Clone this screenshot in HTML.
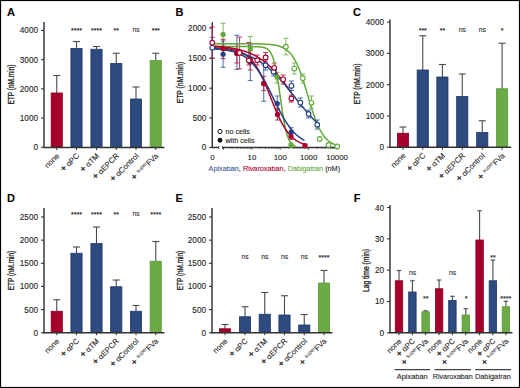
<!DOCTYPE html>
<html><head><meta charset="utf-8"><style>
html,body{margin:0;padding:0;background:#fff;}
svg{display:block;}
text{font-family:"Liberation Sans",sans-serif;stroke:#222;stroke-width:0.1px;}
</style></head><body>
<svg width="520" height="388" viewBox="0 0 520 388" font-family="Liberation Sans, sans-serif">
<rect x="0" y="0" width="520" height="388" fill="#fff"/>
<text x="7" y="16.15" font-size="11" text-anchor="start" fill="#000" font-weight="bold" >A</text>
<line x1="56.75" y1="75.5" x2="56.75" y2="93" stroke="#4a4a4a" stroke-width="1.1" />
<line x1="53.25" y1="75.5" x2="60.25" y2="75.5" stroke="#4a4a4a" stroke-width="1.1" />
<rect x="51.15" y="93" width="11.2" height="54.5" fill="#a5002b" stroke="#8c0024" stroke-width="0.8"/>
<line x1="76.5" y1="41.5" x2="76.5" y2="48.5" stroke="#4a4a4a" stroke-width="1.1" />
<line x1="73" y1="41.5" x2="80" y2="41.5" stroke="#4a4a4a" stroke-width="1.1" />
<rect x="70.9" y="48.5" width="11.2" height="99" fill="#2d4b7e" stroke="#1f3868" stroke-width="0.8"/>
<line x1="96.5" y1="46.5" x2="96.5" y2="49.25" stroke="#4a4a4a" stroke-width="1.1" />
<line x1="93" y1="46.5" x2="100" y2="46.5" stroke="#4a4a4a" stroke-width="1.1" />
<rect x="90.9" y="49.25" width="11.2" height="98.25" fill="#2d4b7e" stroke="#1f3868" stroke-width="0.8"/>
<line x1="116.25" y1="53.25" x2="116.25" y2="63.5" stroke="#4a4a4a" stroke-width="1.1" />
<line x1="112.75" y1="53.25" x2="119.75" y2="53.25" stroke="#4a4a4a" stroke-width="1.1" />
<rect x="110.65" y="63.5" width="11.2" height="84" fill="#2d4b7e" stroke="#1f3868" stroke-width="0.8"/>
<line x1="136" y1="87" x2="136" y2="99" stroke="#4a4a4a" stroke-width="1.1" />
<line x1="132.5" y1="87" x2="139.5" y2="87" stroke="#4a4a4a" stroke-width="1.1" />
<rect x="130.4" y="99" width="11.2" height="48.5" fill="#2d4b7e" stroke="#1f3868" stroke-width="0.8"/>
<line x1="155.75" y1="53.25" x2="155.75" y2="60.5" stroke="#4a4a4a" stroke-width="1.1" />
<line x1="152.25" y1="53.25" x2="159.25" y2="53.25" stroke="#4a4a4a" stroke-width="1.1" />
<rect x="150.15" y="60.5" width="11.2" height="87" fill="#6aab45" stroke="#5c9a3a" stroke-width="0.8"/>
<line x1="44" y1="22" x2="44" y2="148.1" stroke="#333333" stroke-width="1.45" />
<line x1="41" y1="147.25" x2="44" y2="147.25" stroke="#333333" stroke-width="1.1" />
<text x="38" y="150.2" font-size="8.2" text-anchor="end" fill="#1a1a1a" >0</text>
<line x1="41" y1="118.06" x2="44" y2="118.06" stroke="#333333" stroke-width="1.1" />
<text x="38" y="121.01" font-size="8.2" text-anchor="end" fill="#1a1a1a" >1000</text>
<line x1="41" y1="88.87" x2="44" y2="88.87" stroke="#333333" stroke-width="1.1" />
<text x="38" y="91.82" font-size="8.2" text-anchor="end" fill="#1a1a1a" >2000</text>
<line x1="41" y1="59.68" x2="44" y2="59.68" stroke="#333333" stroke-width="1.1" />
<text x="38" y="62.63" font-size="8.2" text-anchor="end" fill="#1a1a1a" >3000</text>
<line x1="41" y1="30.49" x2="44" y2="30.49" stroke="#333333" stroke-width="1.1" />
<text x="38" y="33.44" font-size="8.2" text-anchor="end" fill="#1a1a1a" >4000</text>
<line x1="43.4" y1="147.5" x2="164.5" y2="147.5" stroke="#333333" stroke-width="1.45" />
<line x1="56.75" y1="147.5" x2="56.75" y2="150" stroke="#333333" stroke-width="1.0" />
<line x1="76.5" y1="147.5" x2="76.5" y2="150" stroke="#333333" stroke-width="1.0" />
<line x1="96.5" y1="147.5" x2="96.5" y2="150" stroke="#333333" stroke-width="1.0" />
<line x1="116.25" y1="147.5" x2="116.25" y2="150" stroke="#333333" stroke-width="1.0" />
<line x1="136" y1="147.5" x2="136" y2="150" stroke="#333333" stroke-width="1.0" />
<line x1="155.75" y1="147.5" x2="155.75" y2="150" stroke="#333333" stroke-width="1.0" />
<text x="76.5" y="32.9" font-size="7" text-anchor="middle" fill="#111" >****</text>
<text x="96.5" y="32.9" font-size="7" text-anchor="middle" fill="#111" >****</text>
<text x="116.25" y="32.9" font-size="7" text-anchor="middle" fill="#111" >**</text>
<text x="136" y="31.8" font-size="6.8" text-anchor="middle" fill="#333" >ns</text>
<text x="155.75" y="32.9" font-size="7" text-anchor="middle" fill="#111" >***</text>
<text x="0" y="0" font-size="7.7" text-anchor="end" fill="#1a1a1a" transform="translate(59.85,156.4) rotate(-45)">none</text>
<text x="0" y="0" font-size="7.7" text-anchor="end" fill="#1a1a1a" transform="translate(79.6,156.4) rotate(-45)"><tspan font-size="9" style="stroke-width:0.3px">+</tspan> αPC</text>
<text x="0" y="0" font-size="7.7" text-anchor="end" fill="#1a1a1a" transform="translate(99.6,156.4) rotate(-45)"><tspan font-size="9" style="stroke-width:0.3px">+</tspan> αTM</text>
<text x="0" y="0" font-size="7.7" text-anchor="end" fill="#1a1a1a" transform="translate(119.35,156.4) rotate(-45)"><tspan font-size="9" style="stroke-width:0.3px">+</tspan> αEPCR</text>
<text x="0" y="0" font-size="7.7" text-anchor="end" fill="#1a1a1a" transform="translate(139.1,156.4) rotate(-45)"><tspan font-size="9" style="stroke-width:0.3px">+</tspan> αControl</text>
<text x="0" y="0" font-size="7.7" text-anchor="end" fill="#1a1a1a" transform="translate(158.85,156.4) rotate(-45)"><tspan font-size="9" style="stroke-width:0.3px">+</tspan> <tspan font-size="5.2" dy="-2.7" dx="0.4" fill="#444" style="stroke:#444;stroke-width:0.05px">super</tspan><tspan dy="2.7">FVa</tspan></text>
<text x="0" y="0" font-size="8.2" text-anchor="middle" fill="#1a1a1a" textLength="40" lengthAdjust="spacingAndGlyphs" transform="translate(13.6,84.5) rotate(-90)" style="stroke-width:0.3px">ETP (nM.min)</text>
<text x="353.1" y="15.95" font-size="11" text-anchor="start" fill="#000" font-weight="bold" >C</text>
<line x1="403" y1="127" x2="403" y2="133.25" stroke="#4a4a4a" stroke-width="1.1" />
<line x1="399.5" y1="127" x2="406.5" y2="127" stroke="#4a4a4a" stroke-width="1.1" />
<rect x="397.4" y="133.25" width="11.2" height="14" fill="#a5002b" stroke="#8c0024" stroke-width="0.8"/>
<line x1="422.75" y1="35.75" x2="422.75" y2="70" stroke="#4a4a4a" stroke-width="1.1" />
<line x1="419.25" y1="35.75" x2="426.25" y2="35.75" stroke="#4a4a4a" stroke-width="1.1" />
<rect x="417.15" y="70" width="11.2" height="77.25" fill="#2d4b7e" stroke="#1f3868" stroke-width="0.8"/>
<line x1="442.4" y1="64.5" x2="442.4" y2="77" stroke="#4a4a4a" stroke-width="1.1" />
<line x1="438.9" y1="64.5" x2="445.9" y2="64.5" stroke="#4a4a4a" stroke-width="1.1" />
<rect x="436.8" y="77" width="11.2" height="70.25" fill="#2d4b7e" stroke="#1f3868" stroke-width="0.8"/>
<line x1="462.25" y1="74" x2="462.25" y2="96.5" stroke="#4a4a4a" stroke-width="1.1" />
<line x1="458.75" y1="74" x2="465.75" y2="74" stroke="#4a4a4a" stroke-width="1.1" />
<rect x="456.65" y="96.5" width="11.2" height="50.75" fill="#2d4b7e" stroke="#1f3868" stroke-width="0.8"/>
<line x1="482.25" y1="120.75" x2="482.25" y2="132.5" stroke="#4a4a4a" stroke-width="1.1" />
<line x1="478.75" y1="120.75" x2="485.75" y2="120.75" stroke="#4a4a4a" stroke-width="1.1" />
<rect x="476.65" y="132.5" width="11.2" height="14.75" fill="#2d4b7e" stroke="#1f3868" stroke-width="0.8"/>
<line x1="502.1" y1="43.25" x2="502.1" y2="88.75" stroke="#4a4a4a" stroke-width="1.1" />
<line x1="498.6" y1="43.25" x2="505.6" y2="43.25" stroke="#4a4a4a" stroke-width="1.1" />
<rect x="496.5" y="88.75" width="11.2" height="58.5" fill="#6aab45" stroke="#5c9a3a" stroke-width="0.8"/>
<line x1="390" y1="19.5" x2="390" y2="147.85" stroke="#333333" stroke-width="1.45" />
<line x1="387" y1="147.25" x2="390" y2="147.25" stroke="#333333" stroke-width="1.1" />
<text x="384" y="150.2" font-size="8.2" text-anchor="end" fill="#1a1a1a" >0</text>
<line x1="387" y1="115.95" x2="390" y2="115.95" stroke="#333333" stroke-width="1.1" />
<text x="384" y="118.9" font-size="8.2" text-anchor="end" fill="#1a1a1a" >1000</text>
<line x1="387" y1="84.65" x2="390" y2="84.65" stroke="#333333" stroke-width="1.1" />
<text x="384" y="87.6" font-size="8.2" text-anchor="end" fill="#1a1a1a" >2000</text>
<line x1="387" y1="53.35" x2="390" y2="53.35" stroke="#333333" stroke-width="1.1" />
<text x="384" y="56.3" font-size="8.2" text-anchor="end" fill="#1a1a1a" >3000</text>
<line x1="387" y1="22.05" x2="390" y2="22.05" stroke="#333333" stroke-width="1.1" />
<text x="384" y="25" font-size="8.2" text-anchor="end" fill="#1a1a1a" >4000</text>
<line x1="389.4" y1="147.25" x2="511.25" y2="147.25" stroke="#333333" stroke-width="1.45" />
<line x1="403" y1="147.25" x2="403" y2="149.75" stroke="#333333" stroke-width="1.0" />
<line x1="422.75" y1="147.25" x2="422.75" y2="149.75" stroke="#333333" stroke-width="1.0" />
<line x1="442.4" y1="147.25" x2="442.4" y2="149.75" stroke="#333333" stroke-width="1.0" />
<line x1="462.25" y1="147.25" x2="462.25" y2="149.75" stroke="#333333" stroke-width="1.0" />
<line x1="482.25" y1="147.25" x2="482.25" y2="149.75" stroke="#333333" stroke-width="1.0" />
<line x1="502.1" y1="147.25" x2="502.1" y2="149.75" stroke="#333333" stroke-width="1.0" />
<text x="422.75" y="32.9" font-size="7" text-anchor="middle" fill="#111" >***</text>
<text x="442.4" y="32.9" font-size="7" text-anchor="middle" fill="#111" >**</text>
<text x="462.25" y="31.8" font-size="6.8" text-anchor="middle" fill="#333" >ns</text>
<text x="482.25" y="31.8" font-size="6.8" text-anchor="middle" fill="#333" >ns</text>
<text x="502.1" y="32.9" font-size="7" text-anchor="middle" fill="#111" >*</text>
<text x="0" y="0" font-size="7.7" text-anchor="end" fill="#1a1a1a" transform="translate(406.1,156.15) rotate(-45)">none</text>
<text x="0" y="0" font-size="7.7" text-anchor="end" fill="#1a1a1a" transform="translate(425.85,156.15) rotate(-45)"><tspan font-size="9" style="stroke-width:0.3px">+</tspan> αPC</text>
<text x="0" y="0" font-size="7.7" text-anchor="end" fill="#1a1a1a" transform="translate(445.5,156.15) rotate(-45)"><tspan font-size="9" style="stroke-width:0.3px">+</tspan> αTM</text>
<text x="0" y="0" font-size="7.7" text-anchor="end" fill="#1a1a1a" transform="translate(465.35,156.15) rotate(-45)"><tspan font-size="9" style="stroke-width:0.3px">+</tspan> αEPCR</text>
<text x="0" y="0" font-size="7.7" text-anchor="end" fill="#1a1a1a" transform="translate(485.35,156.15) rotate(-45)"><tspan font-size="9" style="stroke-width:0.3px">+</tspan> αControl</text>
<text x="0" y="0" font-size="7.7" text-anchor="end" fill="#1a1a1a" transform="translate(505.2,156.15) rotate(-45)"><tspan font-size="9" style="stroke-width:0.3px">+</tspan> <tspan font-size="5.2" dy="-2.7" dx="0.4" fill="#444" style="stroke:#444;stroke-width:0.05px">super</tspan><tspan dy="2.7">FVa</tspan></text>
<text x="0" y="0" font-size="8.2" text-anchor="middle" fill="#1a1a1a" textLength="40.5" lengthAdjust="spacingAndGlyphs" transform="translate(359.8,83.9) rotate(-90)" style="stroke-width:0.3px">ETP (nM.min)</text>
<text x="7" y="201.65" font-size="11" text-anchor="start" fill="#000" font-weight="bold" >D</text>
<line x1="56.75" y1="299.75" x2="56.75" y2="311.25" stroke="#4a4a4a" stroke-width="1.1" />
<line x1="53.25" y1="299.75" x2="60.25" y2="299.75" stroke="#4a4a4a" stroke-width="1.1" />
<rect x="51.15" y="311.25" width="11.2" height="21.5" fill="#a5002b" stroke="#8c0024" stroke-width="0.8"/>
<line x1="76.5" y1="247" x2="76.5" y2="253.25" stroke="#4a4a4a" stroke-width="1.1" />
<line x1="73" y1="247" x2="80" y2="247" stroke="#4a4a4a" stroke-width="1.1" />
<rect x="70.9" y="253.25" width="11.2" height="79.5" fill="#2d4b7e" stroke="#1f3868" stroke-width="0.8"/>
<line x1="96.5" y1="227" x2="96.5" y2="243.5" stroke="#4a4a4a" stroke-width="1.1" />
<line x1="93" y1="227" x2="100" y2="227" stroke="#4a4a4a" stroke-width="1.1" />
<rect x="90.9" y="243.5" width="11.2" height="89.25" fill="#2d4b7e" stroke="#1f3868" stroke-width="0.8"/>
<line x1="116.25" y1="280" x2="116.25" y2="286.75" stroke="#4a4a4a" stroke-width="1.1" />
<line x1="112.75" y1="280" x2="119.75" y2="280" stroke="#4a4a4a" stroke-width="1.1" />
<rect x="110.65" y="286.75" width="11.2" height="46" fill="#2d4b7e" stroke="#1f3868" stroke-width="0.8"/>
<line x1="136" y1="305.5" x2="136" y2="311.25" stroke="#4a4a4a" stroke-width="1.1" />
<line x1="132.5" y1="305.5" x2="139.5" y2="305.5" stroke="#4a4a4a" stroke-width="1.1" />
<rect x="130.4" y="311.25" width="11.2" height="21.5" fill="#2d4b7e" stroke="#1f3868" stroke-width="0.8"/>
<line x1="155.75" y1="241.5" x2="155.75" y2="261.25" stroke="#4a4a4a" stroke-width="1.1" />
<line x1="152.25" y1="241.5" x2="159.25" y2="241.5" stroke="#4a4a4a" stroke-width="1.1" />
<rect x="150.15" y="261.25" width="11.2" height="71.5" fill="#6aab45" stroke="#5c9a3a" stroke-width="0.8"/>
<line x1="44" y1="208" x2="44" y2="333.35" stroke="#333333" stroke-width="1.45" />
<line x1="41" y1="332.75" x2="44" y2="332.75" stroke="#333333" stroke-width="1.1" />
<text x="38" y="335.7" font-size="8.2" text-anchor="end" fill="#1a1a1a" >0</text>
<line x1="41" y1="309.6" x2="44" y2="309.6" stroke="#333333" stroke-width="1.1" />
<text x="38" y="312.55" font-size="8.2" text-anchor="end" fill="#1a1a1a" >500</text>
<line x1="41" y1="286.45" x2="44" y2="286.45" stroke="#333333" stroke-width="1.1" />
<text x="38" y="289.4" font-size="8.2" text-anchor="end" fill="#1a1a1a" >1000</text>
<line x1="41" y1="263.3" x2="44" y2="263.3" stroke="#333333" stroke-width="1.1" />
<text x="38" y="266.25" font-size="8.2" text-anchor="end" fill="#1a1a1a" >1500</text>
<line x1="41" y1="240.15" x2="44" y2="240.15" stroke="#333333" stroke-width="1.1" />
<text x="38" y="243.1" font-size="8.2" text-anchor="end" fill="#1a1a1a" >2000</text>
<line x1="41" y1="217" x2="44" y2="217" stroke="#333333" stroke-width="1.1" />
<text x="38" y="219.95" font-size="8.2" text-anchor="end" fill="#1a1a1a" >2500</text>
<line x1="43.4" y1="332.75" x2="164.5" y2="332.75" stroke="#333333" stroke-width="1.45" />
<line x1="56.75" y1="332.75" x2="56.75" y2="335.25" stroke="#333333" stroke-width="1.0" />
<line x1="76.5" y1="332.75" x2="76.5" y2="335.25" stroke="#333333" stroke-width="1.0" />
<line x1="96.5" y1="332.75" x2="96.5" y2="335.25" stroke="#333333" stroke-width="1.0" />
<line x1="116.25" y1="332.75" x2="116.25" y2="335.25" stroke="#333333" stroke-width="1.0" />
<line x1="136" y1="332.75" x2="136" y2="335.25" stroke="#333333" stroke-width="1.0" />
<line x1="155.75" y1="332.75" x2="155.75" y2="335.25" stroke="#333333" stroke-width="1.0" />
<text x="76.5" y="217.2" font-size="7" text-anchor="middle" fill="#111" >****</text>
<text x="96.5" y="217.2" font-size="7" text-anchor="middle" fill="#111" >****</text>
<text x="116.25" y="217.2" font-size="7" text-anchor="middle" fill="#111" >**</text>
<text x="136" y="216.1" font-size="6.8" text-anchor="middle" fill="#333" >ns</text>
<text x="155.75" y="217.2" font-size="7" text-anchor="middle" fill="#111" >****</text>
<text x="0" y="0" font-size="7.7" text-anchor="end" fill="#1a1a1a" transform="translate(59.85,341.65) rotate(-45)">none</text>
<text x="0" y="0" font-size="7.7" text-anchor="end" fill="#1a1a1a" transform="translate(79.6,341.65) rotate(-45)"><tspan font-size="9" style="stroke-width:0.3px">+</tspan> αPC</text>
<text x="0" y="0" font-size="7.7" text-anchor="end" fill="#1a1a1a" transform="translate(99.6,341.65) rotate(-45)"><tspan font-size="9" style="stroke-width:0.3px">+</tspan> αTM</text>
<text x="0" y="0" font-size="7.7" text-anchor="end" fill="#1a1a1a" transform="translate(119.35,341.65) rotate(-45)"><tspan font-size="9" style="stroke-width:0.3px">+</tspan> αEPCR</text>
<text x="0" y="0" font-size="7.7" text-anchor="end" fill="#1a1a1a" transform="translate(139.1,341.65) rotate(-45)"><tspan font-size="9" style="stroke-width:0.3px">+</tspan> αControl</text>
<text x="0" y="0" font-size="7.7" text-anchor="end" fill="#1a1a1a" transform="translate(158.85,341.65) rotate(-45)"><tspan font-size="9" style="stroke-width:0.3px">+</tspan> <tspan font-size="5.2" dy="-2.7" dx="0.4" fill="#444" style="stroke:#444;stroke-width:0.05px">super</tspan><tspan dy="2.7">FVa</tspan></text>
<text x="0" y="0" font-size="8.2" text-anchor="middle" fill="#1a1a1a" textLength="39.5" lengthAdjust="spacingAndGlyphs" transform="translate(13.5,270.5) rotate(-90)" style="stroke-width:0.3px">ETP (nM.min)</text>
<text x="175.5" y="201.65" font-size="11" text-anchor="start" fill="#000" font-weight="bold" >E</text>
<line x1="225" y1="324.5" x2="225" y2="328.75" stroke="#4a4a4a" stroke-width="1.1" />
<line x1="221.5" y1="324.5" x2="228.5" y2="324.5" stroke="#4a4a4a" stroke-width="1.1" />
<rect x="219.4" y="328.75" width="11.2" height="4" fill="#a5002b" stroke="#8c0024" stroke-width="0.8"/>
<line x1="245" y1="306.75" x2="245" y2="316.75" stroke="#4a4a4a" stroke-width="1.1" />
<line x1="241.5" y1="306.75" x2="248.5" y2="306.75" stroke="#4a4a4a" stroke-width="1.1" />
<rect x="239.4" y="316.75" width="11.2" height="16" fill="#2d4b7e" stroke="#1f3868" stroke-width="0.8"/>
<line x1="264.75" y1="292.5" x2="264.75" y2="314.25" stroke="#4a4a4a" stroke-width="1.1" />
<line x1="261.25" y1="292.5" x2="268.25" y2="292.5" stroke="#4a4a4a" stroke-width="1.1" />
<rect x="259.15" y="314.25" width="11.2" height="18.5" fill="#2d4b7e" stroke="#1f3868" stroke-width="0.8"/>
<line x1="284.5" y1="295.75" x2="284.5" y2="315" stroke="#4a4a4a" stroke-width="1.1" />
<line x1="281" y1="295.75" x2="288" y2="295.75" stroke="#4a4a4a" stroke-width="1.1" />
<rect x="278.9" y="315" width="11.2" height="17.75" fill="#2d4b7e" stroke="#1f3868" stroke-width="0.8"/>
<line x1="304.25" y1="314.5" x2="304.25" y2="325" stroke="#4a4a4a" stroke-width="1.1" />
<line x1="300.75" y1="314.5" x2="307.75" y2="314.5" stroke="#4a4a4a" stroke-width="1.1" />
<rect x="298.65" y="325" width="11.2" height="7.75" fill="#2d4b7e" stroke="#1f3868" stroke-width="0.8"/>
<line x1="324" y1="270.5" x2="324" y2="283" stroke="#4a4a4a" stroke-width="1.1" />
<line x1="320.5" y1="270.5" x2="327.5" y2="270.5" stroke="#4a4a4a" stroke-width="1.1" />
<rect x="318.4" y="283" width="11.2" height="49.75" fill="#6aab45" stroke="#5c9a3a" stroke-width="0.8"/>
<line x1="212" y1="208" x2="212" y2="333.35" stroke="#333333" stroke-width="1.45" />
<line x1="209" y1="332.75" x2="212" y2="332.75" stroke="#333333" stroke-width="1.1" />
<text x="206" y="335.7" font-size="8.2" text-anchor="end" fill="#1a1a1a" >0</text>
<line x1="209" y1="309.6" x2="212" y2="309.6" stroke="#333333" stroke-width="1.1" />
<text x="206" y="312.55" font-size="8.2" text-anchor="end" fill="#1a1a1a" >500</text>
<line x1="209" y1="286.45" x2="212" y2="286.45" stroke="#333333" stroke-width="1.1" />
<text x="206" y="289.4" font-size="8.2" text-anchor="end" fill="#1a1a1a" >1000</text>
<line x1="209" y1="263.3" x2="212" y2="263.3" stroke="#333333" stroke-width="1.1" />
<text x="206" y="266.25" font-size="8.2" text-anchor="end" fill="#1a1a1a" >1500</text>
<line x1="209" y1="240.15" x2="212" y2="240.15" stroke="#333333" stroke-width="1.1" />
<text x="206" y="243.1" font-size="8.2" text-anchor="end" fill="#1a1a1a" >2000</text>
<line x1="209" y1="217" x2="212" y2="217" stroke="#333333" stroke-width="1.1" />
<text x="206" y="219.95" font-size="8.2" text-anchor="end" fill="#1a1a1a" >2500</text>
<line x1="211.4" y1="332.75" x2="332.5" y2="332.75" stroke="#333333" stroke-width="1.45" />
<line x1="225" y1="332.75" x2="225" y2="335.25" stroke="#333333" stroke-width="1.0" />
<line x1="245" y1="332.75" x2="245" y2="335.25" stroke="#333333" stroke-width="1.0" />
<line x1="264.75" y1="332.75" x2="264.75" y2="335.25" stroke="#333333" stroke-width="1.0" />
<line x1="284.5" y1="332.75" x2="284.5" y2="335.25" stroke="#333333" stroke-width="1.0" />
<line x1="304.25" y1="332.75" x2="304.25" y2="335.25" stroke="#333333" stroke-width="1.0" />
<line x1="324" y1="332.75" x2="324" y2="335.25" stroke="#333333" stroke-width="1.0" />
<text x="245" y="258.8" font-size="6.8" text-anchor="middle" fill="#333" >ns</text>
<text x="264.75" y="258.8" font-size="6.8" text-anchor="middle" fill="#333" >ns</text>
<text x="284.5" y="258.8" font-size="6.8" text-anchor="middle" fill="#333" >ns</text>
<text x="304.25" y="258.8" font-size="6.8" text-anchor="middle" fill="#333" >ns</text>
<text x="324" y="259.9" font-size="7" text-anchor="middle" fill="#111" >****</text>
<text x="0" y="0" font-size="7.7" text-anchor="end" fill="#1a1a1a" transform="translate(228.1,341.65) rotate(-45)">none</text>
<text x="0" y="0" font-size="7.7" text-anchor="end" fill="#1a1a1a" transform="translate(248.1,341.65) rotate(-45)"><tspan font-size="9" style="stroke-width:0.3px">+</tspan> αPC</text>
<text x="0" y="0" font-size="7.7" text-anchor="end" fill="#1a1a1a" transform="translate(267.85,341.65) rotate(-45)"><tspan font-size="9" style="stroke-width:0.3px">+</tspan> αTM</text>
<text x="0" y="0" font-size="7.7" text-anchor="end" fill="#1a1a1a" transform="translate(287.6,341.65) rotate(-45)"><tspan font-size="9" style="stroke-width:0.3px">+</tspan> αEPCR</text>
<text x="0" y="0" font-size="7.7" text-anchor="end" fill="#1a1a1a" transform="translate(307.35,341.65) rotate(-45)"><tspan font-size="9" style="stroke-width:0.3px">+</tspan> αControl</text>
<text x="0" y="0" font-size="7.7" text-anchor="end" fill="#1a1a1a" transform="translate(327.1,341.65) rotate(-45)"><tspan font-size="9" style="stroke-width:0.3px">+</tspan> <tspan font-size="5.2" dy="-2.7" dx="0.4" fill="#444" style="stroke:#444;stroke-width:0.05px">super</tspan><tspan dy="2.7">FVa</tspan></text>
<text x="0" y="0" font-size="8.2" text-anchor="middle" fill="#1a1a1a" textLength="39.5" lengthAdjust="spacingAndGlyphs" transform="translate(182.5,270.5) rotate(-90)" style="stroke-width:0.3px">ETP (nM.min)</text>
<text x="353.75" y="201.65" font-size="11" text-anchor="start" fill="#000" font-weight="bold" >F</text>
<line x1="399" y1="270.5" x2="399" y2="280.75" stroke="#4a4a4a" stroke-width="1.1" />
<line x1="396.75" y1="270.5" x2="401.25" y2="270.5" stroke="#4a4a4a" stroke-width="1.1" />
<rect x="395.27" y="280.75" width="7.45" height="52" fill="#a5002b" stroke="#8c0024" stroke-width="0.8"/>
<line x1="412.4" y1="280.75" x2="412.4" y2="292" stroke="#4a4a4a" stroke-width="1.1" />
<line x1="410.15" y1="280.75" x2="414.65" y2="280.75" stroke="#4a4a4a" stroke-width="1.1" />
<rect x="408.67" y="292" width="7.45" height="40.75" fill="#2d4b7e" stroke="#1f3868" stroke-width="0.8"/>
<line x1="425.6" y1="310.75" x2="425.6" y2="311.75" stroke="#4a4a4a" stroke-width="1.1" />
<line x1="423.35" y1="310.75" x2="427.85" y2="310.75" stroke="#4a4a4a" stroke-width="1.1" />
<rect x="421.88" y="311.75" width="7.45" height="21" fill="#6aab45" stroke="#5c9a3a" stroke-width="0.8"/>
<line x1="439.1" y1="280" x2="439.1" y2="288.75" stroke="#4a4a4a" stroke-width="1.1" />
<line x1="436.85" y1="280" x2="441.35" y2="280" stroke="#4a4a4a" stroke-width="1.1" />
<rect x="435.38" y="288.75" width="7.45" height="44" fill="#a5002b" stroke="#8c0024" stroke-width="0.8"/>
<line x1="452.4" y1="296.25" x2="452.4" y2="300.5" stroke="#4a4a4a" stroke-width="1.1" />
<line x1="450.15" y1="296.25" x2="454.65" y2="296.25" stroke="#4a4a4a" stroke-width="1.1" />
<rect x="448.67" y="300.5" width="7.45" height="32.25" fill="#2d4b7e" stroke="#1f3868" stroke-width="0.8"/>
<line x1="465.8" y1="308.75" x2="465.8" y2="315" stroke="#4a4a4a" stroke-width="1.1" />
<line x1="463.55" y1="308.75" x2="468.05" y2="308.75" stroke="#4a4a4a" stroke-width="1.1" />
<rect x="462.07" y="315" width="7.45" height="17.75" fill="#6aab45" stroke="#5c9a3a" stroke-width="0.8"/>
<line x1="479.6" y1="210.75" x2="479.6" y2="240" stroke="#4a4a4a" stroke-width="1.1" />
<line x1="477.35" y1="210.75" x2="481.85" y2="210.75" stroke="#4a4a4a" stroke-width="1.1" />
<rect x="475.88" y="240" width="7.45" height="92.75" fill="#a5002b" stroke="#8c0024" stroke-width="0.8"/>
<line x1="492.9" y1="260" x2="492.9" y2="280.75" stroke="#4a4a4a" stroke-width="1.1" />
<line x1="490.65" y1="260" x2="495.15" y2="260" stroke="#4a4a4a" stroke-width="1.1" />
<rect x="489.17" y="280.75" width="7.45" height="52" fill="#2d4b7e" stroke="#1f3868" stroke-width="0.8"/>
<line x1="505.9" y1="301.25" x2="505.9" y2="306.75" stroke="#4a4a4a" stroke-width="1.1" />
<line x1="503.65" y1="301.25" x2="508.15" y2="301.25" stroke="#4a4a4a" stroke-width="1.1" />
<rect x="502.17" y="306.75" width="7.45" height="26" fill="#6aab45" stroke="#5c9a3a" stroke-width="0.8"/>
<line x1="390" y1="205" x2="390" y2="333.35" stroke="#333333" stroke-width="1.45" />
<line x1="387" y1="332.75" x2="390" y2="332.75" stroke="#333333" stroke-width="1.1" />
<text x="384" y="335.7" font-size="8.2" text-anchor="end" fill="#1a1a1a" >0</text>
<line x1="387" y1="301.45" x2="390" y2="301.45" stroke="#333333" stroke-width="1.1" />
<text x="384" y="304.4" font-size="8.2" text-anchor="end" fill="#1a1a1a" >10</text>
<line x1="387" y1="270.15" x2="390" y2="270.15" stroke="#333333" stroke-width="1.1" />
<text x="384" y="273.1" font-size="8.2" text-anchor="end" fill="#1a1a1a" >20</text>
<line x1="387" y1="238.85" x2="390" y2="238.85" stroke="#333333" stroke-width="1.1" />
<text x="384" y="241.8" font-size="8.2" text-anchor="end" fill="#1a1a1a" >30</text>
<line x1="387" y1="207.55" x2="390" y2="207.55" stroke="#333333" stroke-width="1.1" />
<text x="384" y="210.5" font-size="8.2" text-anchor="end" fill="#1a1a1a" >40</text>
<line x1="389.4" y1="332.75" x2="512.5" y2="332.75" stroke="#333333" stroke-width="1.45" />
<line x1="399" y1="332.75" x2="399" y2="335.25" stroke="#333333" stroke-width="1.0" />
<line x1="412.4" y1="332.75" x2="412.4" y2="335.25" stroke="#333333" stroke-width="1.0" />
<line x1="425.6" y1="332.75" x2="425.6" y2="335.25" stroke="#333333" stroke-width="1.0" />
<line x1="439.1" y1="332.75" x2="439.1" y2="335.25" stroke="#333333" stroke-width="1.0" />
<line x1="452.4" y1="332.75" x2="452.4" y2="335.25" stroke="#333333" stroke-width="1.0" />
<line x1="465.8" y1="332.75" x2="465.8" y2="335.25" stroke="#333333" stroke-width="1.0" />
<line x1="479.6" y1="332.75" x2="479.6" y2="335.25" stroke="#333333" stroke-width="1.0" />
<line x1="492.9" y1="332.75" x2="492.9" y2="335.25" stroke="#333333" stroke-width="1.0" />
<line x1="505.9" y1="332.75" x2="505.9" y2="335.25" stroke="#333333" stroke-width="1.0" />
<text x="0" y="0" font-size="7.7" text-anchor="end" fill="#1a1a1a" transform="translate(402.1,341.65) rotate(-45)">none</text>
<text x="0" y="0" font-size="7.7" text-anchor="end" fill="#1a1a1a" transform="translate(415.5,341.65) rotate(-45)"><tspan font-size="9" style="stroke-width:0.3px">+</tspan> αPC</text>
<text x="0" y="0" font-size="7.7" text-anchor="end" fill="#1a1a1a" transform="translate(428.7,341.65) rotate(-45)"><tspan font-size="9" style="stroke-width:0.3px">+</tspan> <tspan font-size="5.2" dy="-2.7" dx="0.4" fill="#444" style="stroke:#444;stroke-width:0.05px">super</tspan><tspan dy="2.7">FVa</tspan></text>
<text x="0" y="0" font-size="7.7" text-anchor="end" fill="#1a1a1a" transform="translate(442.2,341.65) rotate(-45)">none</text>
<text x="0" y="0" font-size="7.7" text-anchor="end" fill="#1a1a1a" transform="translate(455.5,341.65) rotate(-45)"><tspan font-size="9" style="stroke-width:0.3px">+</tspan> αPC</text>
<text x="0" y="0" font-size="7.7" text-anchor="end" fill="#1a1a1a" transform="translate(468.9,341.65) rotate(-45)"><tspan font-size="9" style="stroke-width:0.3px">+</tspan> <tspan font-size="5.2" dy="-2.7" dx="0.4" fill="#444" style="stroke:#444;stroke-width:0.05px">super</tspan><tspan dy="2.7">FVa</tspan></text>
<text x="0" y="0" font-size="7.7" text-anchor="end" fill="#1a1a1a" transform="translate(482.7,341.65) rotate(-45)">none</text>
<text x="0" y="0" font-size="7.7" text-anchor="end" fill="#1a1a1a" transform="translate(496,341.65) rotate(-45)"><tspan font-size="9" style="stroke-width:0.3px">+</tspan> αPC</text>
<text x="0" y="0" font-size="7.7" text-anchor="end" fill="#1a1a1a" transform="translate(509,341.65) rotate(-45)"><tspan font-size="9" style="stroke-width:0.3px">+</tspan> <tspan font-size="5.2" dy="-2.7" dx="0.4" fill="#444" style="stroke:#444;stroke-width:0.05px">super</tspan><tspan dy="2.7">FVa</tspan></text>
<text x="412.5" y="275" font-size="6.8" text-anchor="middle" fill="#333" >ns</text>
<text x="425.75" y="301.1" font-size="7" text-anchor="middle" fill="#111" >**</text>
<text x="452.5" y="275" font-size="6.8" text-anchor="middle" fill="#333" >ns</text>
<text x="466" y="300.8" font-size="7" text-anchor="middle" fill="#111" >*</text>
<text x="493" y="259.9" font-size="7" text-anchor="middle" fill="#111" >**</text>
<text x="505.8" y="301.1" font-size="7" text-anchor="middle" fill="#111" >****</text>
<text x="0" y="0" font-size="8.7" text-anchor="middle" fill="#1a1a1a" textLength="43" lengthAdjust="spacingAndGlyphs" transform="translate(368.9,270.6) rotate(-90)" style="stroke-width:0.3px">Lag time (min)</text>
<line x1="394.5" y1="369.6" x2="430" y2="369.6" stroke="#444" stroke-width="1.1" />
<text x="412.25" y="379.2" font-size="7.6" text-anchor="middle" fill="#1a1a1a" textLength="31" lengthAdjust="spacingAndGlyphs">Apixaban</text>
<line x1="434.5" y1="369.6" x2="471" y2="369.6" stroke="#444" stroke-width="1.1" />
<text x="452.75" y="379.2" font-size="7.6" text-anchor="middle" fill="#1a1a1a" textLength="40" lengthAdjust="spacingAndGlyphs">Rivaroxaban</text>
<line x1="475.25" y1="369.6" x2="511" y2="369.6" stroke="#444" stroke-width="1.1" />
<text x="492.9" y="379.2" font-size="7.6" text-anchor="middle" fill="#1a1a1a" textLength="35.8" lengthAdjust="spacingAndGlyphs">Dabigatran</text>
<text x="175.5" y="16.15" font-size="11" text-anchor="start" fill="#000" font-weight="bold" >B</text>
<text x="0" y="0" font-size="8.2" text-anchor="middle" fill="#1a1a1a" textLength="41.5" lengthAdjust="spacingAndGlyphs" transform="translate(182.5,82.5) rotate(-90)" style="stroke-width:0.3px">ETP (nM.min)</text>
<line x1="212.3" y1="22.25" x2="212.3" y2="148.1" stroke="#333333" stroke-width="1.45" />
<line x1="209.3" y1="147.5" x2="212.3" y2="147.5" stroke="#333333" stroke-width="1.1" />
<text x="206.3" y="150.45" font-size="8.2" text-anchor="end" fill="#1a1a1a" >0</text>
<line x1="209.3" y1="117.9" x2="212.3" y2="117.9" stroke="#333333" stroke-width="1.1" />
<text x="206.3" y="120.85" font-size="8.2" text-anchor="end" fill="#1a1a1a" >500</text>
<line x1="209.3" y1="88.2" x2="212.3" y2="88.2" stroke="#333333" stroke-width="1.1" />
<text x="206.3" y="91.15" font-size="8.2" text-anchor="end" fill="#1a1a1a" >1000</text>
<line x1="209.3" y1="58.3" x2="212.3" y2="58.3" stroke="#333333" stroke-width="1.1" />
<text x="206.3" y="61.25" font-size="8.2" text-anchor="end" fill="#1a1a1a" >1500</text>
<line x1="209.3" y1="28.1" x2="212.3" y2="28.1" stroke="#333333" stroke-width="1.1" />
<text x="206.3" y="31.05" font-size="8.2" text-anchor="end" fill="#1a1a1a" >2000</text>
<line x1="211.7" y1="147.5" x2="218.75" y2="147.5" stroke="#333333" stroke-width="1.45" />
<line x1="222.5" y1="147.5" x2="335" y2="147.5" stroke="#333333" stroke-width="1.45" />
<line x1="218.75" y1="146" x2="218.75" y2="149" stroke="#333333" stroke-width="0.8" />
<line x1="222.5" y1="146" x2="222.5" y2="149" stroke="#333333" stroke-width="0.8" />
<line x1="223.5" y1="147.5" x2="223.5" y2="149.7" stroke="#333333" stroke-width="0.8" />
<line x1="232.03" y1="147.5" x2="232.03" y2="148.7" stroke="#333333" stroke-width="0.8" />
<line x1="237.03" y1="147.5" x2="237.03" y2="148.7" stroke="#333333" stroke-width="0.8" />
<line x1="240.57" y1="147.5" x2="240.57" y2="148.7" stroke="#333333" stroke-width="0.8" />
<line x1="243.32" y1="147.5" x2="243.32" y2="148.7" stroke="#333333" stroke-width="0.8" />
<line x1="245.56" y1="147.5" x2="245.56" y2="148.7" stroke="#333333" stroke-width="0.8" />
<line x1="247.46" y1="147.5" x2="247.46" y2="148.7" stroke="#333333" stroke-width="0.8" />
<line x1="249.1" y1="147.5" x2="249.1" y2="148.7" stroke="#333333" stroke-width="0.8" />
<line x1="250.55" y1="147.5" x2="250.55" y2="148.7" stroke="#333333" stroke-width="0.8" />
<line x1="251.85" y1="147.5" x2="251.85" y2="149.7" stroke="#333333" stroke-width="0.8" />
<line x1="260.38" y1="147.5" x2="260.38" y2="148.7" stroke="#333333" stroke-width="0.8" />
<line x1="265.38" y1="147.5" x2="265.38" y2="148.7" stroke="#333333" stroke-width="0.8" />
<line x1="268.92" y1="147.5" x2="268.92" y2="148.7" stroke="#333333" stroke-width="0.8" />
<line x1="271.67" y1="147.5" x2="271.67" y2="148.7" stroke="#333333" stroke-width="0.8" />
<line x1="273.91" y1="147.5" x2="273.91" y2="148.7" stroke="#333333" stroke-width="0.8" />
<line x1="275.81" y1="147.5" x2="275.81" y2="148.7" stroke="#333333" stroke-width="0.8" />
<line x1="277.45" y1="147.5" x2="277.45" y2="148.7" stroke="#333333" stroke-width="0.8" />
<line x1="278.9" y1="147.5" x2="278.9" y2="148.7" stroke="#333333" stroke-width="0.8" />
<line x1="280.2" y1="147.5" x2="280.2" y2="149.7" stroke="#333333" stroke-width="0.8" />
<line x1="288.73" y1="147.5" x2="288.73" y2="148.7" stroke="#333333" stroke-width="0.8" />
<line x1="293.73" y1="147.5" x2="293.73" y2="148.7" stroke="#333333" stroke-width="0.8" />
<line x1="297.27" y1="147.5" x2="297.27" y2="148.7" stroke="#333333" stroke-width="0.8" />
<line x1="300.02" y1="147.5" x2="300.02" y2="148.7" stroke="#333333" stroke-width="0.8" />
<line x1="302.26" y1="147.5" x2="302.26" y2="148.7" stroke="#333333" stroke-width="0.8" />
<line x1="304.16" y1="147.5" x2="304.16" y2="148.7" stroke="#333333" stroke-width="0.8" />
<line x1="305.8" y1="147.5" x2="305.8" y2="148.7" stroke="#333333" stroke-width="0.8" />
<line x1="307.25" y1="147.5" x2="307.25" y2="148.7" stroke="#333333" stroke-width="0.8" />
<line x1="308.55" y1="147.5" x2="308.55" y2="149.7" stroke="#333333" stroke-width="0.8" />
<line x1="317.08" y1="147.5" x2="317.08" y2="148.7" stroke="#333333" stroke-width="0.8" />
<line x1="322.08" y1="147.5" x2="322.08" y2="148.7" stroke="#333333" stroke-width="0.8" />
<line x1="325.62" y1="147.5" x2="325.62" y2="148.7" stroke="#333333" stroke-width="0.8" />
<line x1="328.37" y1="147.5" x2="328.37" y2="148.7" stroke="#333333" stroke-width="0.8" />
<line x1="330.61" y1="147.5" x2="330.61" y2="148.7" stroke="#333333" stroke-width="0.8" />
<line x1="332.51" y1="147.5" x2="332.51" y2="148.7" stroke="#333333" stroke-width="0.8" />
<line x1="334.15" y1="147.5" x2="334.15" y2="148.7" stroke="#333333" stroke-width="0.8" />
<line x1="335.6" y1="147.5" x2="335.6" y2="148.7" stroke="#333333" stroke-width="0.8" />
<line x1="336.9" y1="147.5" x2="336.9" y2="149.7" stroke="#333333" stroke-width="0.8" />
<line x1="212.3" y1="37.3" x2="212.3" y2="58" stroke="#3d5c98" stroke-width="0.9" />
<line x1="209.8" y1="37.3" x2="214.8" y2="37.3" stroke="#3d5c98" stroke-width="0.9" />
<line x1="209.8" y1="58" x2="214.8" y2="58" stroke="#3d5c98" stroke-width="0.9" />
<line x1="212.3" y1="27" x2="212.3" y2="58.25" stroke="#b42448" stroke-width="0.9" />
<line x1="209.8" y1="27" x2="214.8" y2="27" stroke="#b42448" stroke-width="0.9" />
<line x1="209.8" y1="58.25" x2="214.8" y2="58.25" stroke="#b42448" stroke-width="0.9" />
<line x1="223.1" y1="23.25" x2="223.1" y2="44.9" stroke="#74b34d" stroke-width="0.9" />
<line x1="220.6" y1="23.25" x2="225.6" y2="23.25" stroke="#74b34d" stroke-width="0.9" />
<line x1="220.6" y1="44.9" x2="225.6" y2="44.9" stroke="#74b34d" stroke-width="0.9" />
<line x1="223.1" y1="41" x2="223.1" y2="67.25" stroke="#3d5c98" stroke-width="0.9" />
<line x1="220.6" y1="41" x2="225.6" y2="41" stroke="#3d5c98" stroke-width="0.9" />
<line x1="220.6" y1="67.25" x2="225.6" y2="67.25" stroke="#3d5c98" stroke-width="0.9" />
<line x1="223.1" y1="39.25" x2="223.1" y2="58.6" stroke="#b42448" stroke-width="0.9" />
<line x1="220.6" y1="39.25" x2="225.6" y2="39.25" stroke="#b42448" stroke-width="0.9" />
<line x1="220.6" y1="58.6" x2="225.6" y2="58.6" stroke="#b42448" stroke-width="0.9" />
<line x1="236.9" y1="35.2" x2="236.9" y2="69.4" stroke="#3d5c98" stroke-width="0.9" />
<line x1="234.4" y1="35.2" x2="239.4" y2="35.2" stroke="#3d5c98" stroke-width="0.9" />
<line x1="234.4" y1="69.4" x2="239.4" y2="69.4" stroke="#3d5c98" stroke-width="0.9" />
<line x1="236.9" y1="43.7" x2="236.9" y2="63" stroke="#b42448" stroke-width="0.9" />
<line x1="234.4" y1="43.7" x2="239.4" y2="43.7" stroke="#b42448" stroke-width="0.9" />
<line x1="234.4" y1="63" x2="239.4" y2="63" stroke="#b42448" stroke-width="0.9" />
<line x1="239.6" y1="37.1" x2="239.6" y2="68.75" stroke="#b42448" stroke-width="0.9" />
<line x1="237.1" y1="37.1" x2="242.1" y2="37.1" stroke="#b42448" stroke-width="0.9" />
<line x1="237.1" y1="68.75" x2="242.1" y2="68.75" stroke="#b42448" stroke-width="0.9" />
<line x1="250.3" y1="36.4" x2="250.3" y2="62" stroke="#74b34d" stroke-width="0.9" />
<line x1="247.8" y1="36.4" x2="252.8" y2="36.4" stroke="#74b34d" stroke-width="0.9" />
<line x1="247.8" y1="62" x2="252.8" y2="62" stroke="#74b34d" stroke-width="0.9" />
<line x1="250.25" y1="45" x2="250.25" y2="80.6" stroke="#3d5c98" stroke-width="0.9" />
<line x1="247.75" y1="45" x2="252.75" y2="45" stroke="#3d5c98" stroke-width="0.9" />
<line x1="247.75" y1="80.6" x2="252.75" y2="80.6" stroke="#3d5c98" stroke-width="0.9" />
<line x1="250.3" y1="50" x2="250.3" y2="70" stroke="#b42448" stroke-width="0.9" />
<line x1="247.8" y1="50" x2="252.8" y2="50" stroke="#b42448" stroke-width="0.9" />
<line x1="247.8" y1="70" x2="252.8" y2="70" stroke="#b42448" stroke-width="0.9" />
<line x1="248.75" y1="42.5" x2="248.75" y2="65" stroke="#b42448" stroke-width="0.9" />
<line x1="246.25" y1="42.5" x2="251.25" y2="42.5" stroke="#b42448" stroke-width="0.9" />
<line x1="246.25" y1="65" x2="251.25" y2="65" stroke="#b42448" stroke-width="0.9" />
<line x1="257.25" y1="55" x2="257.25" y2="65" stroke="#b42448" stroke-width="0.9" />
<line x1="254.75" y1="55" x2="259.75" y2="55" stroke="#b42448" stroke-width="0.9" />
<line x1="254.75" y1="65" x2="259.75" y2="65" stroke="#b42448" stroke-width="0.9" />
<line x1="263.75" y1="65" x2="263.75" y2="101.25" stroke="#3d5c98" stroke-width="0.9" />
<line x1="261.25" y1="65" x2="266.25" y2="65" stroke="#3d5c98" stroke-width="0.9" />
<line x1="261.25" y1="101.25" x2="266.25" y2="101.25" stroke="#3d5c98" stroke-width="0.9" />
<line x1="263.75" y1="76.25" x2="263.75" y2="90.6" stroke="#b42448" stroke-width="0.9" />
<line x1="261.25" y1="76.25" x2="266.25" y2="76.25" stroke="#b42448" stroke-width="0.9" />
<line x1="261.25" y1="90.6" x2="266.25" y2="90.6" stroke="#b42448" stroke-width="0.9" />
<line x1="265.6" y1="60" x2="265.6" y2="70" stroke="#3d5c98" stroke-width="0.9" />
<line x1="263.1" y1="60" x2="268.1" y2="60" stroke="#3d5c98" stroke-width="0.9" />
<line x1="263.1" y1="70" x2="268.1" y2="70" stroke="#3d5c98" stroke-width="0.9" />
<line x1="265.6" y1="52.5" x2="265.6" y2="62" stroke="#b42448" stroke-width="0.9" />
<line x1="263.1" y1="52.5" x2="268.1" y2="52.5" stroke="#b42448" stroke-width="0.9" />
<line x1="263.1" y1="62" x2="268.1" y2="62" stroke="#b42448" stroke-width="0.9" />
<line x1="273.6" y1="67" x2="273.6" y2="76" stroke="#3d5c98" stroke-width="0.9" />
<line x1="271.1" y1="67" x2="276.1" y2="67" stroke="#3d5c98" stroke-width="0.9" />
<line x1="271.1" y1="76" x2="276.1" y2="76" stroke="#3d5c98" stroke-width="0.9" />
<line x1="274.2" y1="63" x2="274.2" y2="72" stroke="#b42448" stroke-width="0.9" />
<line x1="271.7" y1="63" x2="276.7" y2="63" stroke="#b42448" stroke-width="0.9" />
<line x1="271.7" y1="72" x2="276.7" y2="72" stroke="#b42448" stroke-width="0.9" />
<line x1="276.9" y1="72.5" x2="276.9" y2="83" stroke="#74b34d" stroke-width="0.9" />
<line x1="274.4" y1="72.5" x2="279.4" y2="72.5" stroke="#74b34d" stroke-width="0.9" />
<line x1="274.4" y1="83" x2="279.4" y2="83" stroke="#74b34d" stroke-width="0.9" />
<line x1="277.25" y1="96" x2="277.25" y2="110" stroke="#3d5c98" stroke-width="0.9" />
<line x1="274.75" y1="96" x2="279.75" y2="96" stroke="#3d5c98" stroke-width="0.9" />
<line x1="274.75" y1="110" x2="279.75" y2="110" stroke="#3d5c98" stroke-width="0.9" />
<line x1="277.5" y1="108.75" x2="277.5" y2="120" stroke="#b42448" stroke-width="0.9" />
<line x1="275" y1="108.75" x2="280" y2="108.75" stroke="#b42448" stroke-width="0.9" />
<line x1="275" y1="120" x2="280" y2="120" stroke="#b42448" stroke-width="0.9" />
<line x1="283.1" y1="75" x2="283.1" y2="84" stroke="#b42448" stroke-width="0.9" />
<line x1="280.6" y1="75" x2="285.6" y2="75" stroke="#b42448" stroke-width="0.9" />
<line x1="280.6" y1="84" x2="285.6" y2="84" stroke="#b42448" stroke-width="0.9" />
<line x1="285.9" y1="38.25" x2="285.9" y2="54.9" stroke="#74b34d" stroke-width="0.9" />
<line x1="283.4" y1="38.25" x2="288.4" y2="38.25" stroke="#74b34d" stroke-width="0.9" />
<line x1="283.4" y1="54.9" x2="288.4" y2="54.9" stroke="#74b34d" stroke-width="0.9" />
<line x1="291" y1="143" x2="291" y2="147" stroke="#74b34d" stroke-width="0.9" />
<line x1="288.5" y1="143" x2="293.5" y2="143" stroke="#74b34d" stroke-width="0.9" />
<line x1="288.5" y1="147" x2="293.5" y2="147" stroke="#74b34d" stroke-width="0.9" />
<line x1="291.25" y1="127.75" x2="291.25" y2="136" stroke="#3d5c98" stroke-width="0.9" />
<line x1="288.75" y1="127.75" x2="293.75" y2="127.75" stroke="#3d5c98" stroke-width="0.9" />
<line x1="288.75" y1="136" x2="293.75" y2="136" stroke="#3d5c98" stroke-width="0.9" />
<line x1="291" y1="133" x2="291" y2="139.5" stroke="#b42448" stroke-width="0.9" />
<line x1="288.5" y1="133" x2="293.5" y2="133" stroke="#b42448" stroke-width="0.9" />
<line x1="288.5" y1="139.5" x2="293.5" y2="139.5" stroke="#b42448" stroke-width="0.9" />
<line x1="291.4" y1="95" x2="291.4" y2="102" stroke="#b42448" stroke-width="0.9" />
<line x1="288.9" y1="95" x2="293.9" y2="95" stroke="#b42448" stroke-width="0.9" />
<line x1="288.9" y1="102" x2="293.9" y2="102" stroke="#b42448" stroke-width="0.9" />
<line x1="291.4" y1="81" x2="291.4" y2="90.5" stroke="#3d5c98" stroke-width="0.9" />
<line x1="288.9" y1="81" x2="293.9" y2="81" stroke="#3d5c98" stroke-width="0.9" />
<line x1="288.9" y1="90.5" x2="293.9" y2="90.5" stroke="#3d5c98" stroke-width="0.9" />
<line x1="294.3" y1="63" x2="294.3" y2="74" stroke="#74b34d" stroke-width="0.9" />
<line x1="291.8" y1="63" x2="296.8" y2="63" stroke="#74b34d" stroke-width="0.9" />
<line x1="291.8" y1="74" x2="296.8" y2="74" stroke="#74b34d" stroke-width="0.9" />
<line x1="300.3" y1="98" x2="300.3" y2="107" stroke="#3d5c98" stroke-width="0.9" />
<line x1="297.8" y1="98" x2="302.8" y2="98" stroke="#3d5c98" stroke-width="0.9" />
<line x1="297.8" y1="107" x2="302.8" y2="107" stroke="#3d5c98" stroke-width="0.9" />
<line x1="302.8" y1="74" x2="302.8" y2="83" stroke="#74b34d" stroke-width="0.9" />
<line x1="300.3" y1="74" x2="305.3" y2="74" stroke="#74b34d" stroke-width="0.9" />
<line x1="300.3" y1="83" x2="305.3" y2="83" stroke="#74b34d" stroke-width="0.9" />
<line x1="305" y1="144" x2="305" y2="147" stroke="#b42448" stroke-width="0.9" />
<line x1="302.5" y1="144" x2="307.5" y2="144" stroke="#b42448" stroke-width="0.9" />
<line x1="302.5" y1="147" x2="307.5" y2="147" stroke="#b42448" stroke-width="0.9" />
<line x1="308.6" y1="110" x2="308.6" y2="118" stroke="#3d5c98" stroke-width="0.9" />
<line x1="306.1" y1="110" x2="311.1" y2="110" stroke="#3d5c98" stroke-width="0.9" />
<line x1="306.1" y1="118" x2="311.1" y2="118" stroke="#3d5c98" stroke-width="0.9" />
<line x1="311.5" y1="96" x2="311.5" y2="108" stroke="#74b34d" stroke-width="0.9" />
<line x1="309" y1="96" x2="314" y2="96" stroke="#74b34d" stroke-width="0.9" />
<line x1="309" y1="108" x2="314" y2="108" stroke="#74b34d" stroke-width="0.9" />
<line x1="317.25" y1="120" x2="317.25" y2="129" stroke="#3d5c98" stroke-width="0.9" />
<line x1="314.75" y1="120" x2="319.75" y2="120" stroke="#3d5c98" stroke-width="0.9" />
<line x1="314.75" y1="129" x2="319.75" y2="129" stroke="#3d5c98" stroke-width="0.9" />
<polyline points="214.5,43.7 215.52,43.7 216.55,43.7 217.57,43.7 218.59,43.7 219.61,43.7 220.64,43.7 221.66,43.7 222.68,43.7 223.71,43.7 224.73,43.7 225.75,43.7 226.78,43.7 227.8,43.7 228.82,43.7 229.84,43.7 230.87,43.7 231.89,43.71 232.91,43.71 233.94,43.71 234.96,43.71 235.98,43.71 237,43.71 238.03,43.71 239.05,43.71 240.07,43.72 241.1,43.72 242.12,43.72 243.14,43.72 244.16,43.73 245.19,43.73 246.21,43.73 247.23,43.74 248.26,43.75 249.28,43.75 250.3,43.76 251.32,43.77 252.35,43.78 253.37,43.79 254.39,43.8 255.42,43.81 256.44,43.83 257.46,43.85 258.49,43.87 259.51,43.89 260.53,43.92 261.55,43.95 262.58,43.99 263.6,44.03 264.62,44.08 265.65,44.13 266.67,44.19 267.69,44.26 268.71,44.34 269.74,44.43 270.76,44.54 271.78,44.65 272.81,44.79 273.83,44.94 274.85,45.11 275.88,45.31 276.9,45.54 277.92,45.79 278.94,46.09 279.97,46.42 280.99,46.79 282.01,47.21 283.04,47.69 284.06,48.24 285.08,48.85 286.1,49.54 287.13,50.32 288.15,51.19 289.17,52.17 290.2,53.26 291.22,54.48 292.24,55.84 293.26,57.34 294.29,58.99 295.31,60.8 296.33,62.79 297.36,64.95 298.38,67.28 299.4,69.79 300.43,72.47 301.45,75.32 302.47,78.31 303.49,81.45 304.52,84.69 305.54,88.03 306.56,91.44 307.59,94.88 308.61,98.32 309.63,101.75 310.65,105.12 311.68,108.4 312.7,111.59 313.72,114.64 314.75,117.55 315.77,120.3 316.79,122.89 317.81,125.29 318.84,127.53 319.86,129.58 320.88,131.47 321.91,133.19 322.93,134.75 323.95,136.17 324.98,137.44 326,138.58 327.02,139.61 328.04,140.53 329.07,141.34 330.09,142.07 331.11,142.71 332.14,143.29 333.16,143.79 334.18,144.24 335.2,144.63 336.23,144.98 337.25,145.29" fill="none" stroke="#62a83a" stroke-width="1.5"/>
<polyline points="214.5,46.6 215.18,46.6 215.86,46.6 216.54,46.6 217.22,46.6 217.9,46.6 218.57,46.6 219.25,46.6 219.93,46.6 220.61,46.6 221.29,46.6 221.97,46.6 222.65,46.6 223.33,46.6 224.01,46.6 224.69,46.6 225.37,46.6 226.05,46.6 226.72,46.6 227.4,46.6 228.08,46.6 228.76,46.6 229.44,46.6 230.12,46.6 230.8,46.6 231.48,46.6 232.16,46.6 232.84,46.6 233.52,46.6 234.2,46.6 234.88,46.6 235.55,46.6 236.23,46.6 236.91,46.6 237.59,46.6 238.27,46.6 238.95,46.6 239.63,46.6 240.31,46.6 240.99,46.6 241.67,46.6 242.35,46.6 243.03,46.6 243.7,46.6 244.38,46.6 245.06,46.6 245.74,46.61 246.42,46.61 247.1,46.61 247.78,46.61 248.46,46.61 249.14,46.61 249.82,46.62 250.5,46.62 251.18,46.63 251.85,46.63 252.53,46.64 253.21,46.65 253.89,46.66 254.57,46.67 255.25,46.68 255.93,46.7 256.61,46.72 257.29,46.75 257.97,46.78 258.65,46.81 259.32,46.86 260,46.91 260.68,46.98 261.36,47.06 262.04,47.16 262.72,47.28 263.4,47.42 264.08,47.59 264.76,47.8 265.44,48.05 266.12,48.36 266.8,48.73 267.48,49.17 268.15,49.7 268.83,50.33 269.51,51.09 270.19,52 270.87,53.07 271.55,54.34 272.23,55.84 272.91,57.6 273.59,59.64 274.27,61.99 274.95,64.68 275.62,67.72 276.3,71.13 276.98,74.89 277.66,78.98 278.34,83.36 279.02,87.98 279.7,92.76 280.38,97.62 281.06,102.47 281.74,107.22 282.42,111.79 283.1,116.11 283.77,120.12 284.45,123.8 285.13,127.12 285.81,130.08 286.49,132.69 287.17,134.97 287.85,136.94 288.53,138.63 289.21,140.07 289.89,141.3 290.57,142.33 291.25,143.2 291.93,143.93 292.6,144.54 293.28,145.04 293.96,145.47 294.64,145.82 295.32,146.11 296,146.35" fill="none" stroke="#62a83a" stroke-width="1.5"/>
<polyline points="214.5,47.84 215.25,47.87 216.01,47.89 216.76,47.93 217.52,47.96 218.27,48 219.03,48.03 219.78,48.08 220.53,48.12 221.29,48.17 222.04,48.22 222.8,48.28 223.55,48.34 224.3,48.41 225.06,48.48 225.81,48.56 226.57,48.64 227.32,48.73 228.07,48.83 228.83,48.93 229.58,49.04 230.34,49.16 231.09,49.29 231.85,49.43 232.6,49.58 233.35,49.74 234.11,49.91 234.86,50.1 235.62,50.3 236.37,50.51 237.12,50.75 237.88,50.99 238.63,51.26 239.39,51.55 240.14,51.85 240.9,52.18 241.65,52.53 242.4,52.91 243.16,53.31 243.91,53.75 244.67,54.21 245.42,54.7 246.18,55.23 246.93,55.79 247.68,56.39 248.44,57.02 249.19,57.7 249.95,58.42 250.7,59.19 251.45,60 252.21,60.86 252.96,61.76 253.72,62.72 254.47,63.73 255.22,64.8 255.98,65.91 256.73,67.09 257.49,68.32 258.24,69.6 259,70.94 259.75,72.34 260.5,73.79 261.26,75.29 262.01,76.85 262.77,78.46 263.52,80.11 264.27,81.81 265.03,83.54 265.78,85.32 266.54,87.13 267.29,88.97 268.05,90.83 268.8,92.71 269.55,94.61 270.31,96.51 271.06,98.42 271.82,100.32 272.57,102.22 273.32,104.1 274.08,105.96 274.83,107.8 275.59,109.61 276.34,111.39 277.1,113.13 277.85,114.83 278.6,116.48 279.36,118.09 280.11,119.65 280.87,121.15 281.62,122.61 282.38,124 283.13,125.35 283.88,126.64 284.64,127.87 285.39,129.04 286.15,130.16 286.9,131.23 287.65,132.24 288.41,133.2 289.16,134.11 289.92,134.97 290.67,135.78 291.43,136.55 292.18,137.27 292.93,137.95 293.69,138.59 294.44,139.19 295.2,139.75 295.95,140.28 296.7,140.77 297.46,141.24 298.21,141.67 298.97,142.07 299.72,142.45 300.48,142.81 301.23,143.14 301.98,143.44 302.74,143.73 303.49,144 304.25,144.25 305,144.48" fill="none" stroke="#ad002d" stroke-width="1.5"/>
<polyline points="214.5,48.79 215.25,48.84 216,48.89 216.75,48.95 217.5,49.01 218.25,49.07 219,49.14 219.75,49.21 220.5,49.29 221.25,49.37 222,49.46 222.75,49.55 223.5,49.65 224.25,49.75 225,49.86 225.75,49.97 226.5,50.1 227.25,50.23 228,50.37 228.75,50.51 229.5,50.67 230.25,50.84 231,51.01 231.75,51.2 232.5,51.39 233.25,51.6 234,51.82 234.75,52.06 235.5,52.3 236.25,52.56 237,52.84 237.75,53.13 238.5,53.44 239.25,53.77 240,54.11 240.75,54.48 241.5,54.86 242.25,55.27 243,55.7 243.75,56.15 244.5,56.62 245.25,57.12 246,57.64 246.75,58.2 247.5,58.77 248.25,59.38 249,60.02 249.75,60.69 250.5,61.39 251.25,62.12 252,62.89 252.75,63.68 253.5,64.52 254.25,65.39 255,66.29 255.75,67.23 256.5,68.21 257.25,69.22 258,70.27 258.75,71.36 259.5,72.48 260.25,73.63 261,74.83 261.75,76.06 262.5,77.32 263.25,78.61 264,79.93 264.75,81.29 265.5,82.67 266.25,84.08 267,85.51 267.75,86.96 268.5,88.44 269.25,89.93 270,91.43 270.75,92.95 271.5,94.48 272.25,96.01 273,97.55 273.75,99.08 274.5,100.61 275.25,102.14 276,103.66 276.75,105.17 277.5,106.67 278.25,108.15 279,109.6 279.75,111.04 280.5,112.46 281.25,113.85 282,115.21 282.75,116.54 283.5,117.84 284.25,119.11 285,120.35 285.75,121.55 286.5,122.72 287.25,123.85 288,124.94 288.75,126 289.5,127.03 290.25,128.01 291,128.96 291.75,129.88 292.5,130.75 293.25,131.6 294,132.4 294.75,133.18 295.5,133.92 296.25,134.63 297,135.3 297.75,135.95 298.5,136.57 299.25,137.15 300,137.71 300.75,138.24 301.5,138.75 302.25,139.23 303,139.69 303.75,140.12 304.5,140.53" fill="none" stroke="#233f80" stroke-width="1.5"/>
<polyline points="214.5,46.23 215.14,46.27 215.78,46.32 216.43,46.37 217.07,46.41 217.71,46.47 218.35,46.52 219,46.57 219.64,46.63 220.28,46.69 220.93,46.75 221.57,46.81 222.21,46.87 222.85,46.94 223.5,47.01 224.14,47.08 224.78,47.16 225.42,47.23 226.06,47.31 226.71,47.4 227.35,47.48 227.99,47.57 228.63,47.66 229.28,47.75 229.92,47.85 230.56,47.95 231.21,48.06 231.85,48.16 232.49,48.28 233.13,48.39 233.78,48.51 234.42,48.63 235.06,48.76 235.7,48.89 236.34,49.03 236.99,49.17 237.63,49.31 238.27,49.46 238.92,49.62 239.56,49.78 240.2,49.94 240.84,50.12 241.49,50.29 242.13,50.47 242.77,50.66 243.41,50.86 244.06,51.06 244.7,51.26 245.34,51.48 245.98,51.7 246.62,51.93 247.27,52.16 247.91,52.4 248.55,52.65 249.2,52.91 249.84,53.17 250.48,53.45 251.12,53.73 251.77,54.02 252.41,54.32 253.05,54.62 253.69,54.94 254.34,55.26 254.98,55.6 255.62,55.94 256.26,56.3 256.91,56.66 257.55,57.04 258.19,57.42 258.83,57.82 259.48,58.22 260.12,58.64 260.76,59.07 261.4,59.51 262.05,59.96 262.69,60.42 263.33,60.9 263.97,61.38 264.62,61.88 265.26,62.39 265.9,62.91 266.54,63.45 267.19,63.99 267.83,64.55 268.47,65.13 269.11,65.71 269.75,66.31 270.4,66.92 271.04,67.54 271.68,68.17 272.33,68.82 272.97,69.48 273.61,70.15 274.25,70.84 274.9,71.54 275.54,72.24 276.18,72.97 276.82,73.7 277.47,74.44 278.11,75.2 278.75,75.97 279.39,76.74 280.04,77.53 280.68,78.33 281.32,79.14 281.96,79.96 282.61,80.79 283.25,81.62 283.89,82.47 284.53,83.32 285.18,84.18 285.82,85.05 286.46,85.93 287.1,86.81 287.75,87.7 288.39,88.59 289.03,89.49 289.67,90.39 290.32,91.3 290.96,92.21 291.6,93.12" fill="none" stroke="#ad002d" stroke-width="1.5"/>
<polyline points="214.5,48.7 215.37,48.78 216.23,48.85 217.1,48.94 217.97,49.02 218.83,49.11 219.7,49.2 220.57,49.3 221.43,49.4 222.3,49.5 223.17,49.61 224.03,49.73 224.9,49.84 225.77,49.97 226.63,50.1 227.5,50.23 228.37,50.37 229.23,50.52 230.1,50.67 230.97,50.82 231.83,50.99 232.7,51.16 233.57,51.34 234.43,51.52 235.3,51.72 236.17,51.92 237.03,52.13 237.9,52.34 238.77,52.57 239.63,52.8 240.5,53.05 241.37,53.3 242.23,53.57 243.1,53.84 243.97,54.12 244.83,54.42 245.7,54.73 246.57,55.04 247.43,55.37 248.3,55.72 249.17,56.07 250.03,56.44 250.9,56.82 251.77,57.22 252.63,57.62 253.5,58.05 254.37,58.49 255.23,58.94 256.1,59.41 256.97,59.89 257.83,60.39 258.7,60.91 259.57,61.44 260.43,61.99 261.3,62.56 262.17,63.14 263.03,63.74 263.9,64.36 264.77,65 265.63,65.66 266.5,66.33 267.37,67.03 268.23,67.74 269.1,68.47 269.97,69.21 270.83,69.98 271.7,70.77 272.57,71.57 273.43,72.39 274.3,73.23 275.17,74.09 276.03,74.96 276.9,75.86 277.77,76.77 278.63,77.69 279.5,78.63 280.37,79.59 281.23,80.56 282.1,81.55 282.97,82.55 283.83,83.56 284.7,84.58 285.57,85.62 286.43,86.66 287.3,87.72 288.17,88.78 289.03,89.86 289.9,90.94 290.77,92.02 291.63,93.11 292.5,94.21 293.37,95.3 294.23,96.4 295.1,97.5 295.97,98.6 296.83,99.7 297.7,100.8 298.57,101.89 299.43,102.98 300.3,104.06 301.17,105.14 302.03,106.21 302.9,107.27 303.77,108.32 304.63,109.36 305.5,110.39 306.37,111.41 307.23,112.42 308.1,113.41 308.97,114.39 309.83,115.35 310.7,116.3 311.57,117.24 312.43,118.16 313.3,119.06 314.17,119.94 315.03,120.81 315.9,121.66 316.77,122.49 317.63,123.3 318.5,124.1" fill="none" stroke="#233f80" stroke-width="1.5"/>
<circle cx="212.3" cy="47.8" r="2.35" fill="#fff" stroke="#233f80" stroke-width="1.1"/>
<circle cx="212.3" cy="42.7" r="2.35" fill="#fff" stroke="#ad002d" stroke-width="1.1"/>
<circle cx="223.1" cy="34.4" r="2.6" fill="#62a83a"/>
<circle cx="223.1" cy="54.25" r="2.6" fill="#233f80"/>
<circle cx="223.1" cy="48.6" r="2.6" fill="#ad002d"/>
<circle cx="236.9" cy="53.5" r="2.6" fill="#233f80"/>
<circle cx="236.9" cy="53.4" r="2.6" fill="#ad002d"/>
<circle cx="239.6" cy="52.9" r="2.35" fill="#fff" stroke="#ad002d" stroke-width="1.1"/>
<circle cx="250.3" cy="49.1" r="2.6" fill="#62a83a"/>
<circle cx="250.25" cy="62" r="2.6" fill="#233f80"/>
<circle cx="250.3" cy="60" r="2.6" fill="#ad002d"/>
<circle cx="248.75" cy="60.5" r="2.35" fill="#fff" stroke="#ad002d" stroke-width="1.1"/>
<circle cx="257.25" cy="60.2" r="2.35" fill="#fff" stroke="#ad002d" stroke-width="1.1"/>
<circle cx="263.75" cy="83" r="2.6" fill="#233f80"/>
<circle cx="263.75" cy="83.75" r="2.6" fill="#ad002d"/>
<circle cx="265.6" cy="65.25" r="2.35" fill="#fff" stroke="#233f80" stroke-width="1.1"/>
<circle cx="265.6" cy="57.5" r="2.35" fill="#fff" stroke="#ad002d" stroke-width="1.1"/>
<circle cx="273.6" cy="71.7" r="2.35" fill="#fff" stroke="#233f80" stroke-width="1.1"/>
<circle cx="274.2" cy="67.8" r="2.35" fill="#fff" stroke="#ad002d" stroke-width="1.1"/>
<circle cx="276.9" cy="77.1" r="2.6" fill="#62a83a"/>
<circle cx="277.25" cy="103.5" r="2.6" fill="#233f80"/>
<circle cx="277.5" cy="114.4" r="2.6" fill="#ad002d"/>
<circle cx="283.1" cy="79.4" r="2.35" fill="#fff" stroke="#ad002d" stroke-width="1.1"/>
<circle cx="285.9" cy="46.75" r="2.35" fill="#fff" stroke="#62a83a" stroke-width="1.1"/>
<circle cx="291" cy="145" r="2.6" fill="#62a83a"/>
<circle cx="291.25" cy="131.9" r="2.6" fill="#233f80"/>
<circle cx="291" cy="136.25" r="2.6" fill="#ad002d"/>
<circle cx="291.4" cy="98.5" r="2.35" fill="#fff" stroke="#ad002d" stroke-width="1.1"/>
<circle cx="291.4" cy="85.9" r="2.35" fill="#fff" stroke="#233f80" stroke-width="1.1"/>
<circle cx="294.3" cy="68.6" r="2.35" fill="#fff" stroke="#62a83a" stroke-width="1.1"/>
<circle cx="300.3" cy="102.6" r="2.35" fill="#fff" stroke="#233f80" stroke-width="1.1"/>
<circle cx="302.8" cy="78.2" r="2.35" fill="#fff" stroke="#62a83a" stroke-width="1.1"/>
<circle cx="305" cy="145.6" r="2.6" fill="#ad002d"/>
<circle cx="308.6" cy="114" r="2.35" fill="#fff" stroke="#233f80" stroke-width="1.1"/>
<circle cx="311.5" cy="102.8" r="2.35" fill="#fff" stroke="#62a83a" stroke-width="1.1"/>
<circle cx="317.25" cy="124.75" r="2.35" fill="#fff" stroke="#233f80" stroke-width="1.1"/>
<circle cx="319.75" cy="139" r="2.35" fill="#fff" stroke="#62a83a" stroke-width="1.1"/>
<circle cx="328.5" cy="145" r="2.35" fill="#fff" stroke="#62a83a" stroke-width="1.1"/>
<circle cx="337.25" cy="146.5" r="2.35" fill="#fff" stroke="#62a83a" stroke-width="1.1"/>
<text x="212.3" y="160" font-size="7.8" text-anchor="middle" fill="#1a1a1a" >0</text>
<text x="251.9" y="160" font-size="7.8" text-anchor="middle" fill="#1a1a1a" >10</text>
<text x="280.25" y="160" font-size="7.8" text-anchor="middle" fill="#1a1a1a" >100</text>
<text x="308.6" y="160" font-size="7.8" text-anchor="middle" fill="#1a1a1a" >1000</text>
<text x="337" y="160" font-size="7.8" text-anchor="middle" fill="#1a1a1a" >10000</text>
<circle cx="220" cy="131.5" r="2.1" fill="#fff" stroke="#111" stroke-width="1"/>
<circle cx="220" cy="140.25" r="2.4" fill="#111"/>
<text x="225.4" y="134.1" font-size="7.2" text-anchor="start" fill="#1a1a1a" >no cells</text>
<text x="225.4" y="142.9" font-size="7.2" text-anchor="start" fill="#1a1a1a" >with cells</text>
<text x="208.6" y="170.9" font-size="7.8" fill="#1a1a1a" textLength="131.5" lengthAdjust="spacingAndGlyphs"><tspan fill="#3a5894" stroke="#3a5894">Apixaban</tspan>, <tspan fill="#ad002d" stroke="#ad002d">Rivaroxaban</tspan>, <tspan fill="#62a83a" stroke="#62a83a">Dabigatran</tspan> (nM)</text>
<rect x="0.5" y="0.5" width="519" height="387" fill="none" stroke="#000" stroke-width="1.2"/>
</svg>
</body></html>
